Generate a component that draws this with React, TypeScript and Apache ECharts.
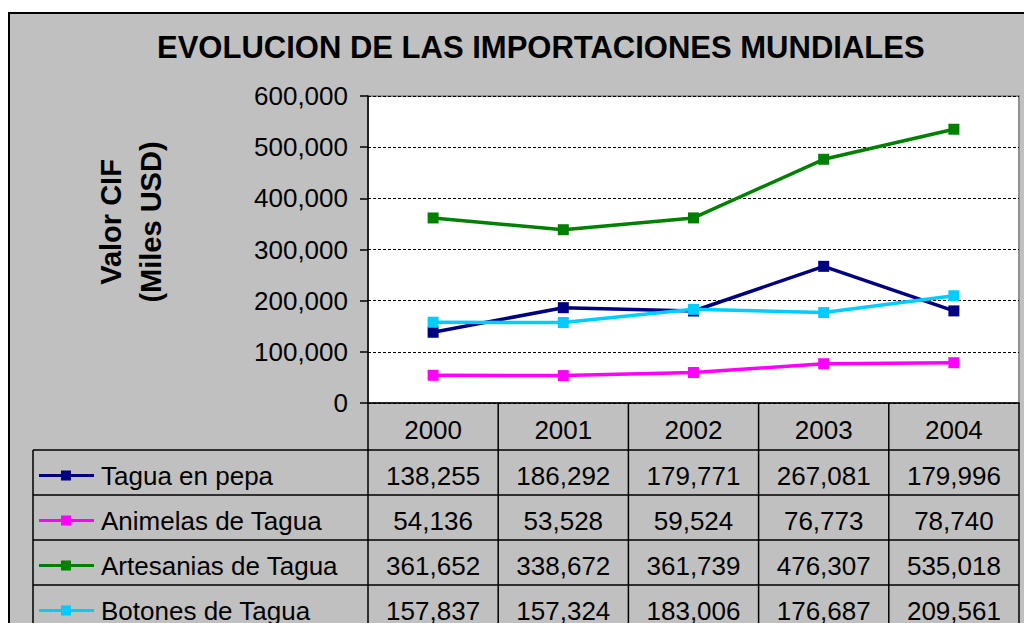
import React, { useEffect, useRef } from "react";
import * as echarts from "echarts";

const titleText = "EVOLUCION DE LAS IMPORTACIONES MUNDIALES";
const yAxisTitle = "Valor CIF\n(Miles USD)";
const years = ["2000", "2001", "2002", "2003", "2004"];
const seriesNames = ["Tagua en pepa", "Animelas de Tagua", "Artesanias de Tagua", "Botones de Tagua"];
const taguaEnPepa = [138255, 186292, 179771, 267081, 179996];
const animelasDeTagua = [54136, 53528, 59524, 76773, 78740];
const artesaniasDeTagua = [361652, 338672, 361739, 476307, 535018];
const botonesDeTagua = [157837, 157324, 183006, 176687, 209561];
const seriesColors = ["#000080", "#ff00ff", "#008000", "#00ccff"];
const yMin = 0;
const yMax = 600000;
const yInterval = 100000;

const FONT = "'Liberation Sans', Arial, sans-serif";
const fmt = (v: number) => v.toLocaleString("en-US");

export default function App() {
  const ref = useRef<HTMLDivElement>(null);

  useEffect(() => {
    if (!ref.current) return;
    const chart = echarts.init(ref.current, null, { renderer: "svg" });
    const allSeries = [taguaEnPepa, animelasDeTagua, artesaniasDeTagua, botonesDeTagua];

    const gridLeft = 368;
    const gridTop = 96;
    const gridW = 651;
    const gridH = 307;
    const gridBottom = gridTop + gridH;
    const colW = gridW / years.length;
    const tableLeft = 33;
    const headerBottom = 450;
    const rowH = 45;
    const rowTops = allSeries.map((_, i) => headerBottom + i * rowH);

    const graphics: any[] = [];
    const lineStyle = { stroke: "#000", lineWidth: 1.5 };
    [headerBottom, ...rowTops.slice(1), headerBottom + allSeries.length * rowH].forEach((y) => {
      graphics.push({ type: "line", shape: { x1: tableLeft, y1: y, x2: gridLeft + gridW, y2: y }, style: lineStyle, silent: true });
    });
    graphics.push({ type: "line", shape: { x1: tableLeft, y1: headerBottom, x2: tableLeft, y2: 700 }, style: lineStyle, silent: true });
    for (let j = 0; j <= years.length; j++) {
      const x = gridLeft + j * colW;
      graphics.push({ type: "line", shape: { x1: x, y1: gridBottom, x2: x, y2: 700 }, style: lineStyle, silent: true });
    }
    allSeries.forEach((vals, i) => {
      const cy = rowTops[i] + rowH / 2 + 3;
      graphics.push({ type: "line", shape: { x1: 39, y1: cy, x2: 94, y2: cy }, style: { stroke: seriesColors[i], lineWidth: 3 }, silent: true });
      graphics.push({ type: "rect", shape: { x: 61, y: cy - 5, width: 10, height: 10 }, style: { fill: seriesColors[i] }, silent: true });
      graphics.push({
        type: "text", x: 101, y: cy,
        style: { text: seriesNames[i], fontSize: 26, fontFamily: FONT, fill: "#000", textAlign: "left", textVerticalAlign: "middle" },
        silent: true,
      });
      vals.forEach((v, j) => {
        graphics.push({
          type: "text", x: gridLeft + colW * (j + 0.5), y: cy,
          style: { text: fmt(v), fontSize: 26, fontFamily: FONT, fill: "#000", textAlign: "center", textVerticalAlign: "middle" },
          silent: true,
        });
      });
    });
    graphics.push({
      type: "text", x: 131, y: 222, rotation: Math.PI / 2,
      style: { text: yAxisTitle, fontSize: 29, fontWeight: "bold", fontFamily: FONT, fill: "#000", textAlign: "center", textVerticalAlign: "middle", lineHeight: 40 },
      silent: true,
    });

    chart.setOption({
      animation: false,
      title: {
        text: titleText,
        left: 157,
        top: 32,
        padding: 0,
        textStyle: { fontSize: 31, fontWeight: "bold", fontFamily: FONT, color: "#000" },
      },
      grid: {
        left: gridLeft, top: gridTop, width: gridW, height: gridH,
        show: true, backgroundColor: "#fff", borderColor: "#909090", borderWidth: 2,
      },
      xAxis: {
        type: "category",
        data: years,
        boundaryGap: true,
        axisLine: { show: true, lineStyle: { color: "#000", width: 1.5 } },
        axisTick: { show: false },
        axisLabel: { fontSize: 26, fontFamily: FONT, color: "#000", margin: 14 },
        splitLine: { show: false },
      },
      yAxis: {
        type: "value",
        min: yMin, max: yMax, interval: yInterval,
        axisLine: { show: true, lineStyle: { color: "#000", width: 1.5 } },
        axisTick: { show: true, length: 8, lineStyle: { color: "#000", width: 1.5 } },
        axisLabel: { fontSize: 26, fontFamily: FONT, color: "#000", margin: 20, formatter: (v: number) => fmt(v) },
        splitLine: { show: true, lineStyle: { color: "#000", type: [3, 2], width: 1 } },
      },
      series: allSeries.map((vals, i) => ({
        type: "line",
        name: seriesNames[i],
        data: vals,
        symbol: "rect",
        symbolSize: 11,
        lineStyle: { color: seriesColors[i], width: 3.5 },
        itemStyle: { color: seriesColors[i] },
        z: 3 + i,
      })),
      graphic: graphics,
    });
    return () => chart.dispose();
  }, []);

  return (
    <div style={{ position: "fixed", left: 0, top: 0, width: 1024, height: 623, overflow: "hidden", background: "#fff" }}>
      <div style={{ position: "absolute", left: 8, top: 12, width: 1100, height: 700, background: "#c0c0c0", border: "2px solid #000", boxSizing: "border-box" }} />
      <div ref={ref} style={{ position: "absolute", left: 0, top: 0, width: 1024, height: 623 }} />
    </div>
  );
}
